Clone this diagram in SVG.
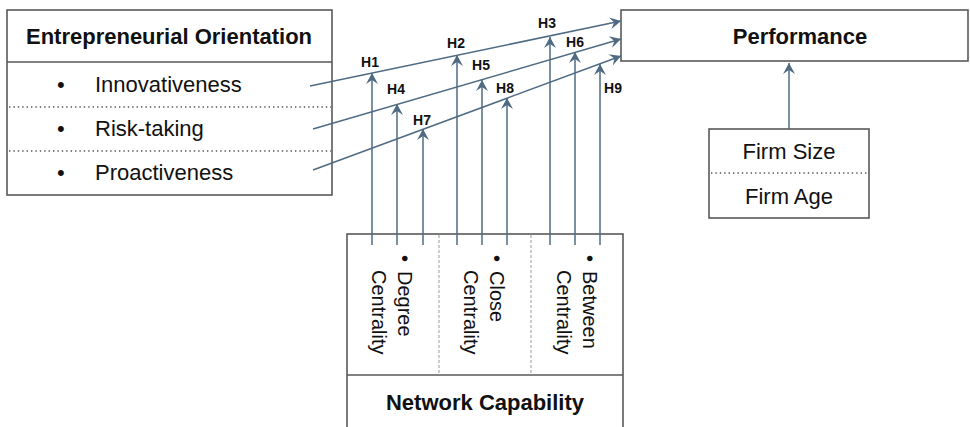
<svg xmlns="http://www.w3.org/2000/svg" width="970" height="427" viewBox="0 0 970 427">
<defs>
<marker id="ah" viewBox="-12 -7 14 14" markerWidth="14" markerHeight="14" refX="0" refY="0" orient="auto" markerUnits="userSpaceOnUse">
<path d="M0,0 L-11,-6 L-7,0 L-11,6 Z" fill="#4F6B84"/>
</marker>
</defs>
<style>
.box{fill:#fff;stroke:#595959;stroke-width:1.6}
.dot{stroke:#555;stroke-width:1.4;stroke-dasharray:1.4 3;fill:none}
.dash{stroke:#999;stroke-width:1;stroke-dasharray:3 2;fill:none}
.hdr{font-family:"Liberation Sans",Arial,sans-serif;font-weight:bold;font-size:22px;fill:#111}
.txt{font-family:"Liberation Sans",Arial,sans-serif;font-size:22px;fill:#111}
.vt{font-family:"Liberation Sans",Arial,sans-serif;font-size:20px;fill:#111}
.hl{font-family:"Liberation Sans",Arial,sans-serif;font-weight:bold;font-size:14px;fill:#111;text-anchor:middle}
.arr{stroke:#4F6B84;stroke-width:1.5;fill:none;marker-end:url(#ah)}
</style>
<g id="eo">
<rect class="box" x="7" y="10" width="325" height="185"/>
<line x1="7" y1="62" x2="332" y2="62" stroke="#595959" stroke-width="1.6"/>
<line class="dot" x1="9" y1="107" x2="331" y2="107"/>
<line class="dot" x1="9" y1="151" x2="331" y2="151"/>
<text class="hdr" x="169" y="44" text-anchor="middle">Entrepreneurial Orientation</text>
<text class="txt" x="57" y="92">•</text>
<text class="txt" x="95" y="92">Innovativeness</text>
<text class="txt" x="57" y="136">•</text>
<text class="txt" x="95" y="136">Risk-taking</text>
<text class="txt" x="57" y="180">•</text>
<text class="txt" x="95" y="180">Proactiveness</text>
</g>
<g id="performance">
<rect class="box" x="621" y="10" width="347" height="51"/>
<text class="hdr" x="800" y="44" text-anchor="middle">Performance</text>
</g>
<g id="controls">
<rect class="box" x="709" y="129" width="160" height="89"/>
<line class="dot" x1="711" y1="173" x2="868" y2="173"/>
<text class="txt" x="789" y="159" text-anchor="middle">Firm Size</text>
<text class="txt" x="789" y="204" text-anchor="middle">Firm Age</text>
</g>
<g id="network">
<rect class="box" x="347" y="234" width="276" height="200"/>
<line x1="347" y1="375" x2="623" y2="375" stroke="#595959" stroke-width="1.6"/>
<line class="dash" x1="439" y1="235" x2="439" y2="375"/>
<line class="dash" x1="531" y1="235" x2="531" y2="375"/>
<g transform="translate(398,255) rotate(90)">
<text class="vt" x="0" y="0">•</text>
<text class="vt" x="16" y="0">Degree</text>
<text class="vt" x="15" y="26">Centrality</text>
</g>
<g transform="translate(490,255) rotate(90)">
<text class="vt" x="0" y="0">•</text>
<text class="vt" x="16" y="0">Close</text>
<text class="vt" x="15" y="26">Centrality</text>
</g>
<g transform="translate(583,255) rotate(90)">
<text class="vt" x="0" y="0">•</text>
<text class="vt" x="16" y="0">Between</text>
<text class="vt" x="15" y="26">Centrality</text>
</g>
<text class="hdr" x="485" y="410" text-anchor="middle">Network Capability</text>
</g>
<g id="connectors">
<line class="arr" x1="310" y1="86" x2="621" y2="21"/>
<line class="arr" x1="313" y1="129" x2="621" y2="39"/>
<line class="arr" x1="313" y1="170" x2="621" y2="56"/>
<line class="arr" x1="372" y1="245" x2="372" y2="73"/>
<line class="arr" x1="397" y1="245" x2="397" y2="104"/>
<line class="arr" x1="423" y1="245" x2="423" y2="129"/>
<line class="arr" x1="457" y1="245" x2="457" y2="55"/>
<line class="arr" x1="482" y1="245" x2="482" y2="80"/>
<line class="arr" x1="507" y1="245" x2="507" y2="98"/>
<line class="arr" x1="550" y1="245" x2="550" y2="37"/>
<line class="arr" x1="575" y1="245" x2="575" y2="52"/>
<line class="arr" x1="600" y1="245" x2="600" y2="64"/>
<line class="arr" x1="789" y1="129" x2="789" y2="63"/>
</g>
<g id="labels">
<text class="hl" x="370" y="67">H1</text>
<text class="hl" x="396" y="94">H4</text>
<text class="hl" x="422" y="125">H7</text>
<text class="hl" x="456" y="48">H2</text>
<text class="hl" x="481" y="70">H5</text>
<text class="hl" x="505" y="93">H8</text>
<text class="hl" x="547" y="28">H3</text>
<text class="hl" x="575" y="47">H6</text>
<text class="hl" x="613" y="93">H9</text>
</g>
</svg>
